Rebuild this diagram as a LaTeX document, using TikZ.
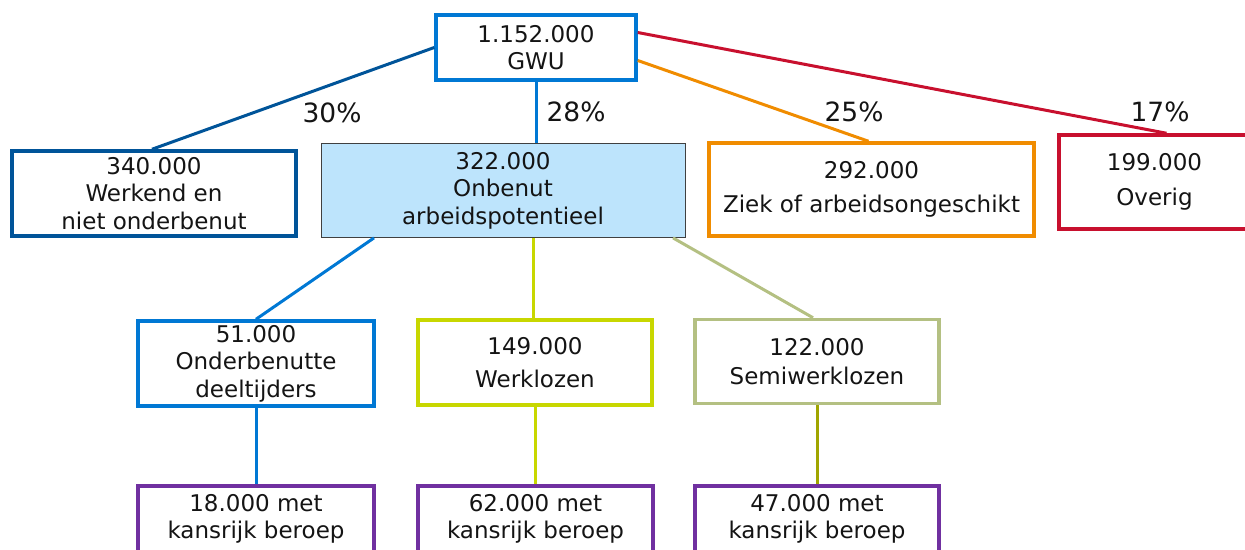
\documentclass[tikz,border=0pt]{standalone}
\usepackage{fontspec}
\setmainfont{DejaVu Sans}
\definecolor{gwublue}{RGB}{0,120,212}
\definecolor{darkblue}{RGB}{0,84,153}
\definecolor{orng}{RGB}{240,140,0}
\definecolor{crimson}{RGB}{200,16,46}
\definecolor{ygreen}{RGB}{200,215,0}
\definecolor{olivelight}{RGB}{180,192,130}
\definecolor{olivedark}{RGB}{160,165,0}
\definecolor{purp}{RGB}{112,48,160}
\definecolor{lblue}{RGB}{189,228,252}
\definecolor{txt}{RGB}{20,20,20}
\begin{document}
\begin{tikzpicture}[x=1pt,y=-1pt,
  box/.style={draw,line width=3.5pt,fill=white,inner sep=0pt,align=center,text=txt,
    font=\fontsize{23}{27.5}\selectfont},
  conn/.style={line width=3pt},
  pct/.style={text=txt,font=\fontsize{26.5}{30}\selectfont,inner sep=0pt}]
\useasboundingbox (0,0) rectangle (1245,549);
% level 0
\node[box,draw=gwublue,minimum width=200pt,minimum height=65pt] (gwu) at (536,47.5) {1.152.000\\GWU};
% level 1
\node[box,draw=darkblue,minimum width=284pt,minimum height=85pt] (werk) at (154,193.5) {340.000\\Werkend en\\niet onderbenut};
\node[box,draw=black!75,line width=0.8pt,fill=lblue,minimum width=364pt,minimum height=94pt] (onb) at (503,190.5) {322.000\\Onbenut\\arbeidspotentieel};
\node[box,draw=orng,minimum width=325pt,minimum height=93pt] (ziek) at (871.5,189.5) {292.000\\[7pt]Ziek of arbeidsongeschikt};
\node[box,draw=crimson,minimum width=191pt,minimum height=94pt] (overig) at (1154.5,182) {199.000\\[7pt]Overig};
% level 2
\node[box,draw=gwublue,minimum width=236pt,minimum height=85pt] (deel) at (256,363.5) {51.000\\Onderbenutte\\deeltijders};
\node[box,draw=ygreen,minimum width=234pt,minimum height=85pt] (wkl) at (535,362.5) {149.000\\[6pt]Werklozen};
\node[box,draw=olivelight,minimum width=244pt,minimum height=84pt] (semi) at (817,361.5) {122.000\\[2pt]Semiwerklozen};
% level 3
\node[box,draw=purp,minimum width=236pt,minimum height=66pt] (k1) at (256,519) {18.000 met\\kansrijk beroep};
\node[box,draw=purp,minimum width=235pt,minimum height=66pt] (k2) at (535.5,519) {62.000 met\\kansrijk beroep};
\node[box,draw=purp,minimum width=244pt,minimum height=66pt] (k3) at (817,519) {47.000 met\\kansrijk beroep};
% connectors
\draw[conn,darkblue] (gwu.west) -- ([xshift=-2pt]werk.north);
\draw[conn,gwublue] (gwu.south) -- (onb.north -| gwu.south);
\draw[conn,orng] ([yshift=-13pt]gwu.east) -- ([xshift=-3pt]ziek.north);
\draw[conn,crimson] ([yshift=15pt]gwu.east) -- ([xshift=12pt]overig.north);
\draw[conn,gwublue] ([xshift=-129pt]onb.south) -- (deel.north);
\draw[conn,ygreen] ([xshift=30pt]onb.south) -- ([xshift=-2pt]wkl.north);
\draw[conn,olivelight] ([xshift=170pt]onb.south) -- ([xshift=-4pt]semi.north);
\draw[conn,gwublue] (deel.south) -- (k1.north);
\draw[conn,ygreen] (wkl.south) -- (wkl.south |- k2.north);
\draw[conn,olivedark] (semi.south) -- (k3.north);
% percentages
\node[pct] (p30) at (332,113) {30\%};
\node[pct] (p28) at (576,112) {28\%};
\node[pct] (p25) at (854,112) {25\%};
\node[pct] (p17) at (1160,112) {17\%};
\end{tikzpicture}
\end{document}
